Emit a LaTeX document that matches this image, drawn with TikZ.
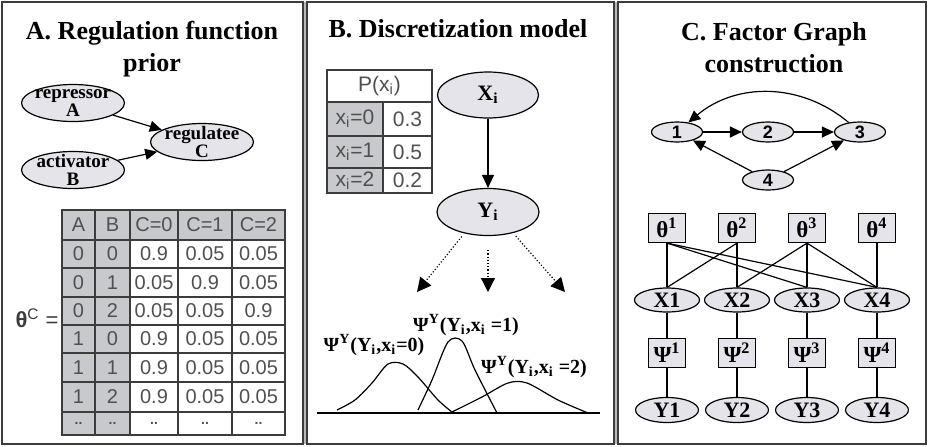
\documentclass[tikz,border=0pt]{standalone}
\usepackage{fontspec}
\setmainfont{Liberation Serif}
\setsansfont{Liberation Sans}
\usetikzlibrary{shapes.geometric, arrows.meta, positioning}

\definecolor{nodegray}{RGB}{228,228,234}
\definecolor{cellgray}{RGB}{200,201,205}
\definecolor{framegray}{RGB}{60,60,60}
\definecolor{tabtext}{RGB}{80,80,80}

\begin{document}
\begin{tikzpicture}[x=0.5pt, y=-0.5pt, on grid, semithick,
    >={Triangle[length=6pt, width=5.5pt]},
    panel/.style={draw=framegray, line width=1.2pt},
    title/.style={font=\fontsize{13}{16}\selectfont\bfseries, align=center},
    gene/.style={ellipse, draw, fill=nodegray, align=center, inner xsep=-6pt, inner ysep=-5pt,
                 minimum width=51.5pt, minimum height=18.5pt, font=\fontsize{9.5}{8.8}\selectfont\bfseries},
    var/.style={ellipse, draw, fill=nodegray, inner sep=0pt, font=\fontsize{11}{12}\selectfont\bfseries},
    gnode/.style={ellipse, draw, fill=nodegray, inner sep=0pt, minimum width=25.5pt,
                  minimum height=10pt, font=\sffamily\bfseries\fontsize{9}{9}\selectfont},
    factor/.style={rectangle, draw, fill=nodegray, inner sep=0pt, minimum width=18.5pt,
                   minimum height=14.5pt, font=\fontsize{11.5}{12}\selectfont\bfseries},
    cell/.style={font=\sffamily\fontsize{10}{12}\selectfont, text=tabtext, inner sep=0pt},
    psi/.style={font=\fontsize{10}{12}\selectfont\bfseries, inner sep=0pt}
  ]

  % page and panels
  \fill[white] (0,0) rectangle (928,446);
  \useasboundingbox (0,0) rectangle (928,446);
  \fill[gray!55] (303,2) rectangle (307,444);
  \fill[gray!55] (614,2) rectangle (618,444);
  \draw[panel] (2,2) rectangle (303,444);
  \draw[panel] (307,2) rectangle (614,444);
  \draw[panel] (618,2) rectangle (926,444);

  % A. regulation function prior
  \node[title] (titleA) at (152,49) {A. Regulation function\\prior};
  \node[gene] (rep) at (73,103) {repressor\\A};
  \node[gene] (act) at (73,170) {activator\\B};
  \node[gene] (reg) at (202,142) {regulatee\\C};
  \path[->]
    (rep) edge (reg)
    (act) edge (reg);

  \fill[cellgray] (62,210) rectangle (285,240);
  \fill[cellgray] (62,240) rectangle (130,435);
  \draw[framegray, line width=1pt] (62,210) rectangle (285,435);
  \foreach \x in {95,130,178,232}
    \draw[framegray] (\x,210) -- (\x,435);
  \foreach \y in {240,268,297,325,353,382,412}
    \draw[framegray] (62,\y) -- (285,\y);

  \foreach \cx/\t [count=\i] in {78.5/A, 112.5/B, 154/C=0, 205/C=1, 258.5/C=2}
    \node[cell] (hd\i) at (\cx,225) {\t};
  \foreach \cy/\a/\b/\p/\q/\r [count=\j] in {254/0/0/0.9/0.05/0.05, 282.5/0/1/0.05/0.9/0.05,
      311/0/2/0.05/0.05/0.9, 339/1/0/0.9/0.05/0.05, 367.5/1/1/0.9/0.05/0.05, 397/1/2/0.9/0.05/0.05} {
    \node[cell] (ca\j) at (78.5,\cy) {\a};
    \node[cell] (cb\j) at (112.5,\cy) {\b};
    \node[cell] (cp\j) at (154,\cy) {\p};
    \node[cell] (cq\j) at (205,\cy) {\q};
    \node[cell] (cr\j) at (258.5,\cy) {\r};
  }
  \foreach \cx [count=\i] in {78.5,112.5,154,205,258.5}
    \node[cell, font=\sffamily\fontsize{7}{8}\selectfont\bfseries] (dots\i) at (\cx,423) {..};
  \node[cell, font=\sffamily\fontsize{11}{12}\selectfont, text=framegray] (thetaC) at (37,318)
    {\textbf{θ}\textsuperscript{C} =};

  % B. discretization model
  \node[title] (titleB) at (458,29) {B. Discretization model};
  \fill[cellgray] (327,102) rectangle (383,193);
  \draw[framegray, line width=1pt] (327,70) rectangle (432,193);
  \foreach \y in {102,136,168}
    \draw[framegray, line width=1pt] (327,\y) -- (432,\y);
  \draw[framegray, line width=1pt] (383,102) -- (383,193);
  \node[cell, font=\sffamily\fontsize{10.5}{12}\selectfont] (px) at (379.5,86) {P(x\textsubscript{i})};
  \foreach \cy/\v/\p [count=\j] in {119/0/0.3, 152/1/0.5, 180.5/2/0.2} {
    \node[cell, font=\sffamily\fontsize{10.5}{12}\selectfont] (xv\j) at (355,\cy) {x\textsubscript{i}=\v};
    \node[cell, font=\sffamily\fontsize{10.5}{12}\selectfont] (xp\j) at (407.5,\cy) {\p};
  }

  \node[var, minimum width=50.5pt, minimum height=23pt] (xi) at (488,95) {X\textsubscript{i}};
  \node[var, minimum width=51pt, minimum height=23.5pt] (yi) at (488,212) {Y\textsubscript{i}};
  \draw[->, >={Triangle[length=6.5pt, width=6pt]}] (xi) -- (yi);

  \coordinate (d0) at (417,292);
  \coordinate (d1) at (488,292);
  \coordinate (d2) at (565,292);
  \path[->, densely dotted, >={Triangle[length=7pt, width=7pt]}]
    (yi.-138) edge[shorten <=2pt] (d0)
    (yi.south) edge[shorten <=7pt] (d1)
    (yi.-40) edge[shorten <=2pt] (d2);

  \draw (317,413) -- (600,413);
  \draw plot[smooth, tension=0.5] coordinates {(337,410) (355,400) (372,383) (388,364) (403,364)
    (418,377) (438,400) (452,412)};
  \draw plot[smooth, tension=0.5] coordinates {(418,410) (432,380) (448,342) (462,341) (475,370)
    (497,413)};
  \draw plot[smooth, tension=0.5] coordinates {(452,412) (482,397) (508,383) (527,383) (558,400)
    (588,413)};
  \node[psi] (psi0) at (374,345) {Ψ\textsuperscript{Y}(Y\textsubscript{i},x\textsubscript{i}=0)};
  \node[psi] (psi1) at (466,325) {Ψ\textsuperscript{Y}(Y\textsubscript{i},x\textsubscript{i} =1)};
  \node[psi] (psi2) at (534,367) {Ψ\textsuperscript{Y}(Y\textsubscript{i},x\textsubscript{i} =2)};

  % C. factor graph construction
  \node[title] (titleC) at (774,48) {C. Factor Graph\\construction};
  \node[gnode] (n1) at (677,132) {1};
  \node[gnode, right=45.5pt of n1] (n2) {2};
  \node[gnode, right=46pt of n2] (n3) {3};
  \node[gnode, below=24pt of n2] (n4) {4};
  \path[->]
    (n1) edge (n2)
    (n2) edge (n3)
    (n4) edge (n1)
         edge (n3)
    (n3) edge[bend right=40] (n1);

  \foreach \i in {1,...,4} {
    \node[factor] (th\i) at ({597+70*\i},228) {θ\textsuperscript{\i}};
    \node[var, minimum width=32.5pt, minimum height=12pt] (x\i) at ({597+70*\i},300) {X\i};
    \node[factor] (ps\i) at ({597+70*\i},353) {Ψ\textsuperscript{\i}};
    \node[var, minimum width=31.5pt, minimum height=12.5pt] (y\i) at ({597+70*\i},410) {Y\i};
    \draw (x\i) -- (ps\i) -- (y\i);
  }
  \foreach \a/\b in {1/1, 1/3, 1/4, 2/1, 2/2, 3/2, 3/3, 3/4, 4/4}
    \draw (th\a.south) -- (x\b.north);

\end{tikzpicture}
\end{document}
